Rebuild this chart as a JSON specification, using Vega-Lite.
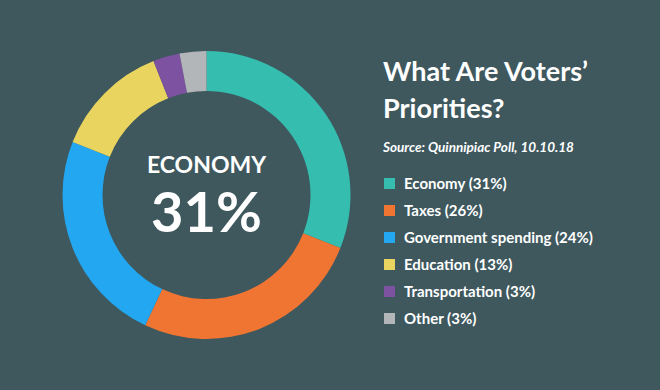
{
  "$schema": "https://vega.github.io/schema/vega-lite/v6.json",
  "width": 413,
  "height": 390,
  "autosize": {"type": "none"},
  "padding": {"left": 0, "top": 0, "right": 247, "bottom": 0},
  "background": "#3e585e",
  "config": {"view": {"stroke": null}, "font": "Lato"},
  "title": {
    "text": ["What Are Voters’", "Priorities?"],
    "subtitle": "Source: Quinnipiac Poll, 10.10.18",
    "anchor": "start",
    "frame": "group",
    "orient": "top",
    "dx": 383,
    "dy": 159,
    "font": "Lato",
    "fontSize": 27,
    "fontWeight": "bold",
    "color": "#ffffff",
    "lineHeight": 37,
    "subtitleFont": "Lato",
    "subtitleFontSize": 13.5,
    "subtitleFontStyle": "italic",
    "subtitleFontWeight": "bold",
    "subtitleColor": "#ffffff",
    "subtitlePadding": 17
  },
  "layer": [
    {
      "data": {
        "values": [
          {"label": "Economy (31%)", "value": 31, "order": 1},
          {"label": "Taxes (26%)", "value": 26, "order": 2},
          {"label": "Government spending (24%)", "value": 24, "order": 3},
          {"label": "Education (13%)", "value": 13, "order": 4},
          {"label": "Transportation (3%)", "value": 3, "order": 5},
          {"label": "Other (3%)", "value": 3, "order": 6}
        ]
      },
      "mark": {"type": "arc", "outerRadius": 144, "innerRadius": 104},
      "encoding": {
        "theta": {"field": "value", "type": "quantitative", "stack": true},
        "order": {"field": "order", "type": "quantitative"},
        "color": {
          "field": "label",
          "type": "nominal",
          "sort": null,
          "scale": {
            "domain": ["Economy (31%)", "Taxes (26%)", "Government spending (24%)", "Education (13%)", "Transportation (3%)", "Other (3%)"],
            "range": ["#35bdb0", "#f07532", "#22a7f0", "#e9d460", "#7d52a0", "#b3b6b9"]
          },
          "legend": {
            "orient": "none",
            "legendX": 382,
            "legendY": 176,
            "title": null,
            "symbolType": "square",
            "symbolSize": 121,
            "symbolStrokeWidth": 0,
            "symbolOpacity": 1,
            "labelColor": "#ffffff",
            "labelFont": "Lato",
            "labelFontSize": 15,
            "labelFontWeight": "bold",
            "labelOffset": 7,
            "labelLimit": 300,
            "rowPadding": 11,
            "padding": 0
          }
        }
      }
    },
    {
      "data": {"values": [{"name": "ECONOMY"}]},
      "mark": {"type": "text", "dy": -22, "fontSize": 23, "fontWeight": "bold", "color": "#ffffff", "font": "Lato", "baseline": "alphabetic"},
      "encoding": {"text": {"field": "name"}}
    },
    {
      "data": {"values": [{"pct": "31%"}]},
      "mark": {"type": "text", "dy": 37, "fontSize": 56, "fontWeight": "bold", "color": "#ffffff", "font": "Lato", "baseline": "alphabetic"},
      "encoding": {"text": {"field": "pct"}}
    }
  ]
}
